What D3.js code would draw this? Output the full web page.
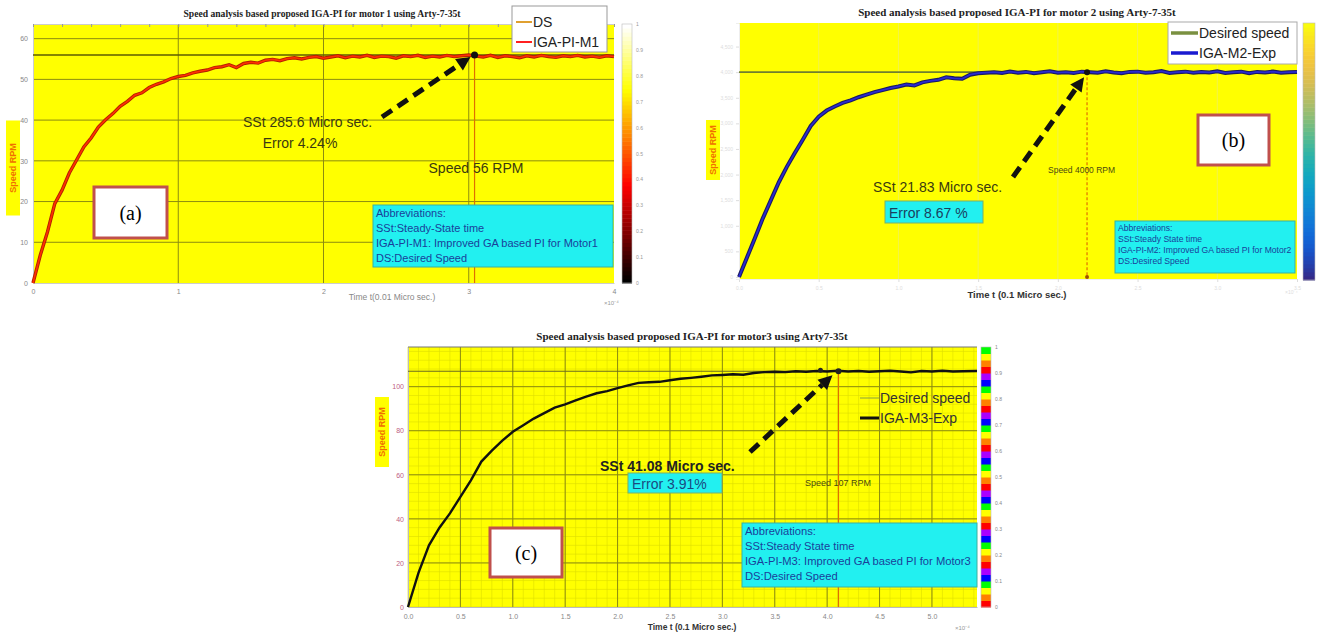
<!DOCTYPE html>
<html>
<head>
<meta charset="utf-8">
<script src="https://cdn.jsdelivr.net/npm/d3@7"></script>
<style>
  body { margin: 0; background: #fff; }
  svg { display: block; font-family: "Liberation Sans", Arial, sans-serif; }
</style>
</head>
<body>
<script>
// ---- data ----
// panel (a): motor 1, time in x10^-4 units, speed in RPM
var timeA = [0,0.05,0.1,0.15,0.2,0.25,0.3,0.35,0.4,0.45,0.5,0.55,0.6,0.65,0.7,0.75,0.8,0.85,0.9,0.95,
  1,1.05,1.1,1.15,1.2,1.25,1.3,1.35,1.4,1.45,1.5,1.55,1.6,1.65,1.7,1.75,1.8,1.85,1.9,1.95,
  2,2.05,2.1,2.15,2.2,2.25,2.3,2.35,2.4,2.45,2.5,2.55,2.6,2.65,2.7,2.75,2.8,2.85,2.9,2.95,
  3,3.05,3.1,3.15,3.2,3.25,3.3,3.35,3.4,3.45,3.5,3.55,3.6,3.65,3.7,3.75,3.8,3.85,3.9,3.95,4]
var speedA = [0,6.8,12.6,19.5,22.8,27,30.2,33.4,35.6,38.3,40.1,41.6,43.4,44.6,46.1,46.7,48,48.8,49.4,50.2,
  50.7,51,51.6,52,52.3,52.9,53.1,53.6,52.9,53.9,54.2,54,54.7,54.9,54.6,55.1,55.3,55,55.4,55.6,
  55.2,55.5,55.8,55.3,55.7,55.5,55.9,55.4,55.7,55.6,55.2,55.8,55.6,55.9,55.4,55.7,55.5,55.9,55.6,55.8,
  56,55.7,55.5,55.9,55.4,55.8,55.6,55.3,55.8,55.5,55.9,55.6,55.4,55.8,55.6,55.9,55.5,55.7,55.4,55.8,55.6]

// panel (b): motor 2
var timeB = [0,0.05,0.1,0.15,0.2,0.25,0.3,0.35,0.4,0.45,0.5,0.55,0.6,0.65,0.7,0.75,0.8,0.85,0.9,0.95,
  1,1.05,1.1,1.15,1.2,1.25,1.3,1.35,1.4,1.45,1.5,1.55,1.6,1.65,1.7,1.75,1.8,1.85,1.9,1.95,
  2,2.05,2.1,2.15,2.2,2.25,2.3,2.35,2.4,2.45,2.5,2.55,2.6,2.65,2.7,2.75,2.8,2.85,2.9,2.95,
  3,3.05,3.1,3.15,3.2,3.25,3.3,3.35,3.4,3.45,3.5]
var speedB = [0,380,760,1150,1500,1850,2150,2420,2680,2950,3130,3250,3330,3400,3450,3510,3560,3610,3650,3690,
  3720,3760,3740,3800,3830,3850,3900,3880,3870,3950,3980,3990,4000,3985,4010,3990,4005,3980,4000,4015,
  3990,4000,3985,4010,4000,3990,4015,3995,3980,4005,4010,3990,4000,4020,3985,4000,4010,3990,4005,3995,
  4015,3985,4000,4010,3980,4005,3995,4012,3990,4000,4005]

// panel (c): motor 3
var timeC = [0,0.1,0.2,0.3,0.4,0.5,0.6,0.7,0.8,0.9,1,1.1,1.2,1.3,1.4,1.5,1.6,1.7,1.8,1.9,
  2,2.1,2.2,2.3,2.4,2.5,2.6,2.7,2.8,2.9,3,3.1,3.2,3.3,3.4,3.5,3.6,3.7,3.8,3.9,
  4,4.1,4.2,4.3,4.4,4.5,4.6,4.7,4.8,4.9,5,5.1,5.2,5.3,5.43]
var speedC = [0,15.5,28,36,42.5,50,57.5,66,71,75.5,79.5,82.5,85.5,88,90.5,92,93.8,95.5,97,98,
  99.3,100.6,101.7,102,102.2,102.9,103.6,104,104.5,105.1,105.3,105.6,105.4,106.2,106.6,106.8,106.6,107,106.8,107.1,
  106.9,107.2,106.9,107.1,106.8,107,107.2,106.9,106.5,107.1,106.9,107.2,106.9,107,107.1]

var desired = [56, 4000, 107]
var ssTime = [3.04, 2.183, 4.108]
var titles = [
  'Speed analysis based proposed  IGA-PI for motor 1 using Arty-7-35t',
  'Speed analysis based proposed  IGA-PI for motor 2 using Arty-7-35t',
  'Speed analysis based proposed IGA-PI for motor3 using Arty7-35t'
]
var xTicksA = [0, 1, 2, 3, 4]
var yTicksA = [0, 10, 20, 30, 40, 50, 60]
var xTicksB = [0, 0.5, 1, 1.5, 2, 2.5, 3, 3.5]
var yTicksB = [0, 500, 1000, 1500, 2000, 2500, 3000, 3500, 4000, 4500]
var xTicksC = [0, 0.5, 1, 1.5, 2, 2.5, 3, 3.5, 4, 4.5, 5]
var yTicksC = [0, 20, 40, 60, 80, 100]
var cbTicks = [0, 0.1, 0.2, 0.3, 0.4, 0.5, 0.6, 0.7, 0.8, 0.9, 1]
var legendA = ['DS', 'IGA-PI-M1']
var legendB = ['Desired speed', 'IGA-M2-Exp']
var legendC = ['Desired speed', 'IGA-M3-Exp']
var sstText = ['SSt 285.6 Micro sec.', 'SSt 21.83 Micro sec.', 'SSt 41.08 Micro sec.']
var errText = ['Error 4.24%', 'Error 8.67 %', 'Error 3.91%']
var spdText = ['Speed 56 RPM', 'Speed 4000 RPM', 'Speed 107 RPM']
var abbrA = ['Abbreviations:', 'SSt:Steady-State time', 'IGA-PI-M1: Improved GA based PI for Motor1', 'DS:Desired Speed']
var abbrB = ['Abbreviations:', 'SSt:Steady State time', 'IGA-PI-M2: Improved GA based PI for Motor2', 'DS:Desired Speed']
var abbrC = ['Abbreviations:', 'SSt:Steady State time', 'IGA-PI-M3: Improved GA based PI for Motor3', 'DS:Desired Speed']

// ---- drawing ----
var svg = d3.select('body').append('svg').attr('width', 1317).attr('height', 633)
var YEL = '#ffff00', CYAN = '#22f0f0'

function dashedArrow(g, x1, y1, x2, y2) {
  var a = Math.atan2(y2 - y1, x2 - x1), L = 14
  var bx = x2 - L * Math.cos(a), by = y2 - L * Math.sin(a)
  g.append('line').attr('x1', x1).attr('y1', y1).attr('x2', bx).attr('y2', by)
    .attr('stroke', '#111').attr('stroke-width', 5).attr('stroke-dasharray', '12,7')
  var p = [[x2, y2], [bx + 7 * Math.sin(a), by - 7 * Math.cos(a)], [bx - 7 * Math.sin(a), by + 7 * Math.cos(a)]]
  g.append('polygon').attr('points', p.map(d => d.join(',')).join(' ')).attr('fill', '#111')
}

function labelBox(g, x, y, w, h, txt) {
  g.append('rect').attr('x', x).attr('y', y).attr('width', w).attr('height', h)
    .attr('fill', '#fff').attr('stroke', '#c0504d').attr('stroke-width', 3)
  g.append('text').attr('x', x + w / 2).attr('y', y + h / 2 + 7).attr('text-anchor', 'middle')
    .attr('font-family', '"Liberation Serif", serif').attr('font-size', 20).text(txt)
}

function ylabel(g, x, yc, h) {
  g.append('rect').attr('x', x - 7).attr('y', yc - h / 2).attr('width', 14).attr('height', h).attr('fill', YEL)
  g.append('text').attr('transform', 'translate(' + (x + 3) + ',' + yc + ') rotate(-90)')
    .attr('text-anchor', 'middle').attr('font-size', 9).attr('font-weight', 'bold')
    .attr('fill', '#f07000').text('Speed RPM')
}

function colorbar(g, x, y0, y1, w, interp, steps) {
  var cb = d3.scaleLinear().domain([0, 1]).range([y1, y0])
  var n = steps || 64
  d3.range(n).forEach(function (i) {
    g.append('rect').attr('x', x).attr('width', w)
      .attr('y', cb((i + 1) / n)).attr('height', cb(i / n) - cb((i + 1) / n) + 0.5)
      .attr('fill', interp(i, n))
  })
  g.append('rect').attr('x', x).attr('y', y0).attr('width', w).attr('height', y1 - y0)
    .attr('fill', 'none').attr('stroke', '#bbb').attr('stroke-width', 0.6)
  return cb
}

function abbrev(g, x, y, w, h, lines, fs, dy) {
  g.append('rect').attr('x', x).attr('y', y).attr('width', w).attr('height', h)
    .attr('fill', CYAN).attr('stroke', '#3ab0a0').attr('stroke-width', 1)
  lines.forEach(function (t, i) {
    g.append('text').attr('x', x + 3).attr('y', y + fs + 1 + i * dy).attr('font-size', fs)
      .attr('fill', '#1a3f9a').text(t)
  })
}

// ===== panel (a) =====
;(function () {
  var g = svg.append('g')
  var x = d3.scaleLinear().domain([0, 4]).range([33, 614])
  var y = d3.scaleLinear().domain([0, 63.6]).range([283, 24])
  g.append('rect').attr('x', 33).attr('y', 24).attr('width', 581).attr('height', 259).attr('fill', YEL)
  g.selectAll('.gy').data(yTicksA.slice(1)).enter().append('line')
    .attr('x1', 33).attr('x2', 614).attr('y1', d => y(d)).attr('y2', d => y(d))
    .attr('stroke', '#8c8c10').attr('stroke-width', 1)
  g.selectAll('.gx').data(xTicksA.slice(1, -1)).enter().append('line')
    .attr('y1', 24).attr('y2', 283).attr('x1', d => x(d)).attr('x2', d => x(d))
    .attr('stroke', '#8c8c10').attr('stroke-width', 1)
  // axes
  var ax = g.append('g').attr('transform', 'translate(0,283)')
    .call(d3.axisBottom(x).tickValues(xTicksA).tickSize(0).tickPadding(6).tickFormat(d3.format('d')))
  var ay = g.append('g').attr('transform', 'translate(33,0)')
    .call(d3.axisLeft(y).tickValues(yTicksA).tickSize(0).tickPadding(5))
  ;[ax, ay].forEach(function (a) {
    a.select('.domain').attr('stroke', '#ccc')
    a.selectAll('text').attr('font-size', 7).attr('fill', '#888')
  })
  g.append('g').attr('transform', 'translate(0,24)')
    .call(d3.axisTop(x).ticks(20).tickSize(-3).tickFormat(''))
    .call(s => s.select('.domain').attr('stroke', '#ccc'))
    .selectAll('line').attr('stroke', '#999')
  // desired speed
  g.append('line').attr('x1', 33).attr('x2', 614).attr('y1', y(desired[0])).attr('y2', y(desired[0]))
    .attr('stroke', '#5c5c00').attr('stroke-width', 1.4)
  // response
  var line = d3.line().x((d, i) => x(timeA[i])).y(d => y(d))
  g.append('path').datum(speedA).attr('d', line).attr('fill', 'none').attr('stroke', '#b02000').attr('stroke-width', 3.4)
  g.append('path').datum(speedA).attr('d', line).attr('fill', 'none').attr('stroke', '#ff3000').attr('stroke-width', 1.6)
  // steady state marker
  g.append('line').attr('x1', x(ssTime[0])).attr('x2', x(ssTime[0])).attr('y1', y(desired[0])).attr('y2', 283)
    .attr('stroke', '#e07000').attr('stroke-width', 1.2)
  g.append('circle').attr('cx', x(ssTime[0])).attr('cy', y(desired[0])).attr('r', 3.5).attr('fill', '#111')
  dashedArrow(g, 382, 117, x(ssTime[0]) - 4, y(desired[0]) + 2)
  g.append('text').attr('x', 243).attr('y', 127).attr('font-size', 14).attr('fill', '#3a3a10').text(sstText[0])
  g.append('text').attr('x', 300).attr('y', 148).attr('text-anchor', 'middle').attr('font-size', 14).attr('fill', '#3a3a10').text(errText[0])
  g.append('text').attr('x', 476).attr('y', 173).attr('text-anchor', 'middle').attr('font-size', 14).attr('fill', '#3a3a10').text(spdText[0])
  abbrev(g, 373, 205, 240, 62, abbrA, 11, 15)
  // legend
  g.append('rect').attr('x', 512).attr('y', 6).attr('width', 95).attr('height', 46).attr('fill', '#fff').attr('stroke', '#999')
  var lc = ['#e0a030', '#ff2020']
  legendA.forEach(function (t, i) {
    g.append('line').attr('x1', 516).attr('x2', 532).attr('y1', 22 + i * 20).attr('y2', 22 + i * 20)
      .attr('stroke', lc[i]).attr('stroke-width', 2)
    g.append('text').attr('x', 533).attr('y', 27 + i * 20).attr('font-size', 14).attr('fill', '#222').text(t)
  })
  // title, labels
  g.append('text').attr('x', 322).attr('y', 17).attr('text-anchor', 'middle').attr('font-family', '"Liberation Serif", serif')
    .attr('font-weight', 'bold').attr('font-size', 9.6).attr('fill', '#222').text(titles[0])
  g.append('text').attr('x', 392).attr('y', 300).attr('text-anchor', 'middle').attr('font-size', 8.5).attr('fill', '#888').text('Time t(0.01 Micro sec.)')
  g.append('text').attr('x', 604).attr('y', 305).attr('font-size', 6).attr('fill', '#999').text('\u00d710\u207b\u2074')
  ylabel(g, 13, 168, 95)
  // colorbar: hot
  var cb = colorbar(g, 622, 24, 283, 10, function (i, n) {
    var t = i / (n - 1)
    return d3.rgb(Math.min(1, t / 0.375) * 255, Math.max(0, Math.min(1, (t - 0.375) / 0.375)) * 255, Math.max(0, (t - 0.75) / 0.25) * 255)
  })
  cbTicks.forEach(function (v) {
    g.append('text').attr('x', 636).attr('y', cb(v) + 2).attr('font-size', 5).attr('fill', '#999').text(v)
  })
  labelBox(g, 94, 187, 73, 51, '(a)')
})()

// ===== panel (b) =====
;(function () {
  var g = svg.append('g')
  var x = d3.scaleLinear().domain([0, 3.5]).range([739, 1297])
  var y = d3.scaleLinear().domain([-40, 4960]).range([279, 23])
  g.append('rect').attr('x', 739).attr('y', 23).attr('width', 558).attr('height', 256).attr('fill', YEL)
  g.selectAll('.gx').data(xTicksB.slice(1, -1)).enter().append('line')
    .attr('y1', 23).attr('y2', 279).attr('x1', d => x(d)).attr('x2', d => x(d))
    .attr('stroke', '#f2f24a').attr('stroke-width', 1)
  var ax = g.append('g').attr('transform', 'translate(0,279)')
    .call(d3.axisBottom(x).tickValues(xTicksB).tickSize(3).tickPadding(4))
  var ay = g.append('g').attr('transform', 'translate(739,0)')
    .call(d3.axisLeft(y).tickValues(yTicksB).tickSize(3).tickPadding(3))
  ;[ax, ay].forEach(function (a) {
    a.select('.domain').attr('stroke', '#eee')
    a.selectAll('line').attr('stroke', '#ddd')
    a.selectAll('text').attr('font-size', 5).attr('fill', '#ddd')
  })
  g.append('line').attr('x1', 739).attr('x2', 1297).attr('y1', y(desired[1])).attr('y2', y(desired[1]))
    .attr('stroke', '#6f7f2f').attr('stroke-width', 1.6)
  var line = d3.line().x((d, i) => x(timeB[i])).y(d => y(d))
  g.append('path').datum(speedB).attr('d', line).attr('fill', 'none').attr('stroke', '#1a1a60').attr('stroke-width', 4)
  g.append('path').datum(speedB).attr('d', line).attr('fill', 'none').attr('stroke', '#2a2ad0').attr('stroke-width', 1.8)
  g.append('line').attr('x1', x(ssTime[1])).attr('x2', x(ssTime[1])).attr('y1', y(desired[1])).attr('y2', 277)
    .attr('stroke', '#e07000').attr('stroke-width', 1.2).attr('stroke-dasharray', '3,2')
  g.append('circle').attr('cx', x(ssTime[1])).attr('cy', y(desired[1])).attr('r', 3).attr('fill', '#111')
  g.append('circle').attr('cx', x(ssTime[1])).attr('cy', 277).attr('r', 2).attr('fill', '#a05000')
  dashedArrow(g, 1013, 177, x(ssTime[1]) - 3, y(desired[1]) + 5)
  g.append('text').attr('x', 873).attr('y', 192).attr('font-size', 14).attr('fill', '#3a3a10').text(sstText[1])
  g.append('rect').attr('x', 885).attr('y', 201).attr('width', 98).attr('height', 22).attr('fill', CYAN).attr('stroke', '#7ab06a')
  g.append('text').attr('x', 889).attr('y', 218).attr('font-size', 14).attr('fill', '#1a4060').text(errText[1])
  g.append('text').attr('x', 1048).attr('y', 173).attr('font-size', 8.5).attr('fill', '#4a4a10').text(spdText[1])
  abbrev(g, 1115, 221, 180, 52, abbrB, 8.6, 11)
  g.append('rect').attr('x', 1168).attr('y', 22).attr('width', 129).attr('height', 42).attr('fill', '#fff').attr('stroke', '#aaa')
  var lc = ['#7a9040', '#1a1ad0']
  legendB.forEach(function (t, i) {
    g.append('line').attr('x1', 1171).attr('x2', 1198).attr('y1', 33 + i * 20).attr('y2', 33 + i * 20)
      .attr('stroke', lc[i]).attr('stroke-width', 3.5)
    g.append('text').attr('x', 1199).attr('y', 38 + i * 20).attr('font-size', 14).attr('fill', '#222').text(t)
  })
  g.append('text').attr('x', 1017).attr('y', 16).attr('text-anchor', 'middle').attr('font-family', '"Liberation Serif", serif')
    .attr('font-weight', 'bold').attr('font-size', 11).attr('fill', '#222').text(titles[1])
  g.append('text').attr('x', 1017).attr('y', 298).attr('text-anchor', 'middle').attr('font-size', 9.5).attr('font-weight', 'bold').attr('fill', '#333').text('Time t (0.1 Micro sec.)')
  g.append('text').attr('x', 1285).attr('y', 294).attr('font-size', 5).attr('fill', '#ddd').text('\u00d710\u207b\u2074')
  ylabel(g, 713, 150, 60)
  colorbar(g, 1303, 23, 280, 12, function (i, n) {
    return d3.interpolateRgbBasis(['#352a87', '#0f5cdd', '#1481d6', '#06a4ca', '#2eb7a4', '#87bf77', '#d1bb59', '#fec338', '#f9fb0e'])(i / (n - 1))
  })
  labelBox(g, 1198, 115, 71, 50, '(b)')
})()

// ===== panel (c) =====
;(function () {
  var g = svg.append('g')
  var x = d3.scaleLinear().domain([0, 5.43]).range([408, 977])
  var y = d3.scaleLinear().domain([0, 118]).range([607, 347])
  g.append('rect').attr('x', 408).attr('y', 347).attr('width', 569).attr('height', 260).attr('fill', YEL)
  // minor grid
  g.selectAll('.mx').data(d3.range(0, 5.43, 0.1)).enter().append('line')
    .attr('y1', 347).attr('y2', 607).attr('x1', d => x(d)).attr('x2', d => x(d))
    .attr('stroke', '#dede00').attr('stroke-width', 0.6)
  g.selectAll('.my').data(d3.range(0, 118, 4)).enter().append('line')
    .attr('x1', 408).attr('x2', 977).attr('y1', d => y(d)).attr('y2', d => y(d))
    .attr('stroke', '#dede00').attr('stroke-width', 0.6)
  g.selectAll('.gx').data(xTicksC.slice(1)).enter().append('line')
    .attr('y1', 347).attr('y2', 607).attr('x1', d => x(d)).attr('x2', d => x(d))
    .attr('stroke', '#8c8c10').attr('stroke-width', 1)
  g.selectAll('.gy').data(yTicksC.slice(1)).enter().append('line')
    .attr('x1', 408).attr('x2', 977).attr('y1', d => y(d)).attr('y2', d => y(d))
    .attr('stroke', '#8c8c10').attr('stroke-width', 1)
  var ax = g.append('g').attr('transform', 'translate(0,607)')
    .call(d3.axisBottom(x).tickValues(xTicksC).tickSize(0).tickPadding(7))
  var ay = g.append('g').attr('transform', 'translate(408,0)')
    .call(d3.axisLeft(y).tickValues(yTicksC).tickSize(0).tickPadding(4))
  ;[ax, ay].forEach(function (a) {
    a.select('.domain').attr('stroke', '#bbb')
    a.selectAll('text').attr('font-size', 7).attr('fill', '#888')
  })
  ay.selectAll('text').attr('fill', '#c06080')
  g.append('line').attr('x1', 408).attr('x2', 977).attr('y1', 347).attr('y2', 347).attr('stroke', '#777')
  g.append('line').attr('x1', 408).attr('x2', 977).attr('y1', y(desired[2])).attr('y2', y(desired[2]))
    .attr('stroke', '#6a6a20').attr('stroke-width', 1)
  var line = d3.line().x((d, i) => x(timeC[i])).y(d => y(d))
  g.append('path').datum(speedC).attr('d', line).attr('fill', 'none').attr('stroke', '#111').attr('stroke-width', 2.4)
  g.append('line').attr('x1', x(ssTime[2])).attr('x2', x(ssTime[2])).attr('y1', y(desired[2])).attr('y2', 607)
    .attr('stroke', '#e07000').attr('stroke-width', 1.2)
  g.append('circle').attr('cx', x(ssTime[2])).attr('cy', y(desired[2])).attr('r', 3).attr('fill', '#222')
  g.append('circle').attr('cx', x(ssTime[2]) - 18).attr('cy', y(desired[2]) - 1).attr('r', 2.5).attr('fill', '#222')
  dashedArrow(g, 750, 452, x(ssTime[2]) - 6, y(desired[2]) + 4)
  g.append('text').attr('x', 600).attr('y', 471).attr('font-size', 14).attr('font-weight', 'bold').attr('fill', '#222').text(sstText[2])
  g.append('rect').attr('x', 628).attr('y', 473).attr('width', 94).attr('height', 20).attr('fill', CYAN).attr('stroke', '#7ab06a')
  g.append('text').attr('x', 632).attr('y', 489).attr('font-size', 14).attr('fill', '#1a4a80').text(errText[2])
  g.append('text').attr('x', 838).attr('y', 486).attr('text-anchor', 'middle').attr('font-size', 9).attr('fill', '#4a4a10').text(spdText[2])
  abbrev(g, 742, 523, 235, 64, abbrC, 11.2, 15)
  var lc = ['#8aa040', '#111'], lw = [1, 3]
  legendC.forEach(function (t, i) {
    g.append('line').attr('x1', 860).attr('x2', 879).attr('y1', 398 + i * 20).attr('y2', 398 + i * 20)
      .attr('stroke', lc[i]).attr('stroke-width', lw[i])
    g.append('text').attr('x', 880).attr('y', 403 + i * 20).attr('font-size', 14).attr('fill', '#333').text(t)
  })
  g.append('text').attr('x', 692).attr('y', 340).attr('text-anchor', 'middle').attr('font-family', '"Liberation Serif", serif')
    .attr('font-weight', 'bold').attr('font-size', 11).attr('fill', '#222').text(titles[2])
  g.append('text').attr('x', 692).attr('y', 630).attr('text-anchor', 'middle').attr('font-size', 8.5).attr('font-weight', 'bold').attr('fill', '#333').text('Time t (0.1 Micro sec.)')
  g.append('text').attr('x', 955).attr('y', 630).attr('font-size', 6).attr('fill', '#999').text('\u00d710\u207b\u2074')
  ylabel(g, 382, 432, 70)
  var prism = ['#ff0000', '#ff8000', '#ffff00', '#00ff00', '#0000ff', '#aa00ff']
  var cb = colorbar(g, 981, 347, 607, 10, function (i) { return prism[i % prism.length] }, 40)
  cbTicks.forEach(function (v) {
    g.append('text').attr('x', 995).attr('y', cb(v) + 2).attr('font-size', 5).attr('fill', '#888').text(v)
  })
  labelBox(g, 490, 528, 72, 49, '(c)')
})()
</script>
</body>
</html>
